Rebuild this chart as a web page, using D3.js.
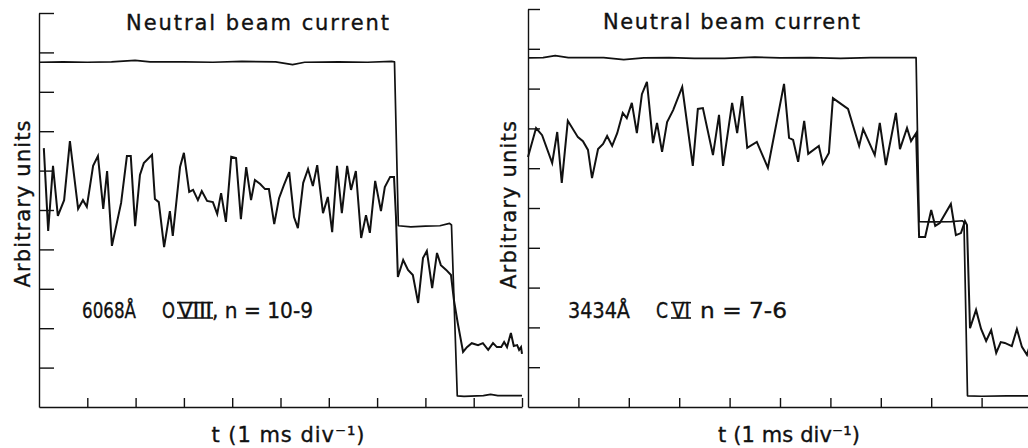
<!DOCTYPE html>
<html>
<head>
<meta charset="utf-8">
<script src="https://cdn.jsdelivr.net/npm/d3@7"></script>
<style>
  body { margin: 0; background: #fff; }
  svg { display: block; }
  text { font-family: "DejaVu Sans", sans-serif; fill: #111; stroke: #111; stroke-width: 0.35; }
</style>
</head>
<body>
<svg id="chart" width="1028" height="448"></svg>
<script>
// Time axis: 1 ms per division, 10 divisions; level axis: 10 divisions
const timeTicks = [1, 2, 3, 4, 5, 6, 7, 8, 9, 10];
const levelTicks = [1, 2, 3, 4, 5, 6, 7, 8, 9, 10];

const panelTitle = "Neutral beam current";
const levelTitle = "Arbitrary units";
const timeTitle = "t (1 ms div\u207B\u00B9)";

// Left panel: O VIII 6068 Å line, n = 10-9  ([t in ms, level in divisions])
const leftBeam = [
  [0, 8.75], [0.5, 8.76], [1.0, 8.75], [1.5, 8.76], [1.99, 8.80], [2.3, 8.76],
  [3.0, 8.76], [3.6, 8.75], [4.2, 8.77], [4.9, 8.76], [5.25, 8.69], [5.5, 8.75],
  [6.2, 8.76], [6.8, 8.75], [7.3, 8.77], [7.36, 8.76], [7.44, 4.60], [7.7, 4.57],
  [8.0, 4.59], [8.3, 4.60], [8.5, 4.66], [8.54, 4.62], [8.66, 0.28], [8.8, 0.27],
  [9.2, 0.29], [9.35, 0.32], [9.5, 0.29], [10, 0.29]
];
const leftSignal = [
  [0.10, 6.57], [0.19, 4.47], [0.29, 6.12], [0.39, 4.85], [0.52, 5.25], [0.64, 6.75],
  [0.81, 5.03], [0.91, 5.25], [0.99, 5.08], [1.12, 6.12], [1.22, 6.37], [1.33, 5.03],
  [1.41, 5.99], [1.51, 4.09], [1.70, 5.18], [1.82, 6.37], [1.90, 6.37], [1.99, 4.59],
  [2.09, 5.89], [2.17, 6.19], [2.34, 6.40], [2.40, 5.28], [2.48, 5.20], [2.59, 4.06],
  [2.71, 4.97], [2.77, 4.34], [2.92, 6.09], [3.00, 6.45], [3.11, 5.46], [3.19, 5.51],
  [3.29, 5.25], [3.37, 5.48], [3.48, 5.23], [3.60, 5.20], [3.69, 4.90], [3.77, 5.43],
  [3.87, 4.70], [3.98, 6.35], [4.08, 6.32], [4.18, 4.77], [4.29, 6.09], [4.39, 5.25],
  [4.47, 5.76], [4.58, 5.66], [4.68, 5.53], [4.76, 5.53], [4.87, 4.64], [4.97, 5.30],
  [5.07, 5.63], [5.18, 5.96], [5.28, 4.82], [5.36, 4.54], [5.47, 5.69], [5.57, 6.04],
  [5.67, 5.61], [5.76, 6.14], [5.88, 4.92], [5.98, 5.33], [6.07, 4.44], [6.17, 6.12],
  [6.27, 4.92], [6.38, 6.12], [6.46, 5.51], [6.56, 5.99], [6.67, 4.29], [6.77, 4.87],
  [6.85, 4.42], [6.96, 5.74], [7.08, 4.97], [7.16, 5.58], [7.27, 5.84], [7.35, 5.84],
  [7.39, 4.85], [7.43, 3.30], [7.54, 3.73], [7.64, 3.48], [7.74, 3.35], [7.85, 2.64],
  [7.95, 3.78], [8.03, 3.96], [8.14, 3.02], [8.24, 3.91], [8.32, 3.60], [8.43, 3.48],
  [8.53, 3.35], [8.59, 2.72], [8.67, 2.13], [8.78, 1.40], [8.86, 1.52], [8.96, 1.62],
  [9.09, 1.57], [9.19, 1.62], [9.30, 1.45], [9.40, 1.62], [9.48, 1.52], [9.57, 1.52],
  [9.63, 1.65], [9.69, 1.52], [9.77, 1.88], [9.83, 1.55], [9.90, 1.57], [9.94, 1.45],
  [9.98, 1.52], [10.0, 1.35]
];

// Right panel: C VI 3434 Å line, n = 7-6
const rightBeam = [
  [0, 8.77], [0.3, 8.78], [0.54, 8.83], [0.8, 8.78], [1.5, 8.78], [1.9, 8.73],
  [2.3, 8.77], [2.8, 8.78], [3.3, 8.76], [3.9, 8.76], [4.5, 8.79], [5.0, 8.77],
  [5.6, 8.78], [6.2, 8.76], [6.8, 8.78], [7.3, 8.78], [7.70, 8.78], [7.76, 4.66],
  [8.0, 4.65], [8.4, 4.66], [8.62, 4.68], [8.65, 4.64], [8.72, 0.28], [9.0, 0.27],
  [9.5, 0.28], [10, 0.28]
];
const rightSignal = [
  [0.00, 6.28], [0.16, 7.01], [0.28, 6.83], [0.48, 6.13], [0.58, 6.91], [0.67, 5.63],
  [0.79, 7.19], [0.99, 6.78], [1.09, 6.68], [1.19, 6.46], [1.27, 5.75], [1.39, 6.48],
  [1.49, 6.61], [1.57, 6.81], [1.67, 6.56], [1.77, 6.88], [1.88, 7.39], [1.96, 7.26],
  [2.06, 7.64], [2.16, 6.88], [2.26, 7.86], [2.36, 8.17], [2.48, 6.63], [2.56, 7.14],
  [2.66, 6.41], [2.76, 7.16], [2.88, 7.46], [3.06, 8.04], [3.27, 6.06], [3.37, 7.49],
  [3.47, 7.51], [3.67, 6.33], [3.79, 7.34], [3.87, 6.06], [4.05, 7.64], [4.15, 6.88],
  [4.25, 7.81], [4.35, 6.51], [4.54, 6.66], [4.76, 6.01], [5.08, 8.12], [5.18, 6.76],
  [5.26, 6.71], [5.36, 6.16], [5.48, 7.19], [5.56, 6.36], [5.77, 6.56], [5.85, 6.11],
  [5.97, 6.38], [6.05, 7.76], [6.35, 7.49], [6.57, 6.56], [6.65, 6.98], [6.88, 6.33],
  [6.98, 7.14], [7.10, 6.08], [7.30, 7.39], [7.38, 6.48], [7.52, 7.01], [7.60, 6.68],
  [7.70, 6.88], [7.76, 4.27], [7.88, 4.27], [8.00, 4.95], [8.08, 4.55], [8.17, 4.62],
  [8.39, 5.10], [8.49, 4.32], [8.59, 4.37], [8.67, 4.67], [8.71, 4.57], [8.77, 1.98],
  [8.89, 2.44], [8.99, 1.96], [9.09, 1.66], [9.19, 1.93], [9.29, 1.36], [9.38, 1.63],
  [9.46, 1.61], [9.60, 1.53], [9.70, 1.96], [9.80, 1.51], [9.90, 1.31], [9.96, 1.56]
];

const leftLabel = ["6068\u00C5", "O", "VIII", ", n = 10-9"];
const rightLabel = ["3434\u00C5", "C", "VI", "n = 7-6"];

const svg = d3.select("#chart");
const ink = "#111";

const panels = [
  {
    beam: leftBeam, signal: leftSignal, label: leftLabel,
    xRange: [39, 522], yRange: [407, 13], yTick: 15,
    title: { x: 126, y: 30, w: 263 },
    yTitle: { x: 30, y: 204, w: 167 },
    xTitle: { x: 288, y: 442, w: 153 },
    labelPos: [
      { x: 82, w: 54 }, { x: 162, w: 13 }, { x: 178, w: 34, bars: true }, { x: 212, w: 101 }
    ]
  },
  {
    beam: rightBeam, signal: rightSignal, label: rightLabel,
    xRange: [528, 1032], yRange: [407, 9], yTick: 12,
    title: { x: 603, y: 29, w: 257 },
    yTitle: { x: 516, y: 205, w: 168 },
    xTitle: { x: 789, y: 442, w: 142 },
    labelPos: [
      { x: 568, w: 62 }, { x: 656, w: 12 }, { x: 672, w: 18, bars: true }, { x: 700, w: 87 }
    ]
  }
];

panels.forEach(p => {
  const x = d3.scaleLinear().domain([0, 10]).range(p.xRange);
  const y = d3.scaleLinear().domain([0, 10]).range(p.yRange);
  const g = svg.append("g");

  // Axes with inward ticks
  g.append("g")
    .attr("transform", `translate(${p.xRange[0]},0)`)
    .call(d3.axisLeft(y).tickValues(levelTicks).tickSize(-p.yTick).tickSizeOuter(0).tickFormat(""));
  g.append("g")
    .attr("transform", `translate(0,${p.yRange[0]})`)
    .call(d3.axisBottom(x).tickValues(timeTicks).tickSize(-9).tickSizeOuter(0).tickFormat(""));
  g.selectAll(".domain, .tick line").attr("stroke", ink).attr("stroke-width", 1.4);

  const line = d3.line().x(d => x(d[0])).y(d => y(d[1]));

  g.append("path").datum(p.beam)
    .attr("d", line).attr("fill", "none")
    .attr("stroke", ink).attr("stroke-width", 1.7).attr("stroke-linejoin", "round");
  g.append("path").datum(p.signal)
    .attr("d", line).attr("fill", "none")
    .attr("stroke", ink).attr("stroke-width", 2).attr("stroke-linejoin", "miter");

  // Titles
  g.append("text").text(panelTitle)
    .attr("x", p.title.x).attr("y", p.title.y)
    .attr("font-size", 21).attr("textLength", p.title.w).attr("lengthAdjust", "spacing");
  g.append("text").text(levelTitle)
    .attr("transform", `translate(${p.yTitle.x},${p.yTitle.y}) rotate(-90)`)
    .attr("text-anchor", "middle")
    .attr("font-size", 21).attr("textLength", p.yTitle.w).attr("lengthAdjust", "spacing");
  g.append("text").text(timeTitle)
    .attr("x", p.xTitle.x - p.xTitle.w / 2).attr("y", p.xTitle.y)
    .attr("font-size", 21).attr("textLength", p.xTitle.w).attr("lengthAdjust", "spacing");

  // Spectral line annotation, with barred roman numeral
  const base = 318, fs = 21;
  p.label.forEach((s, i) => {
    const pos = p.labelPos[i];
    g.append("text").text(s)
      .attr("x", pos.x).attr("y", base)
      .attr("font-size", fs)
      .attr("textLength", pos.w).attr("lengthAdjust", "spacingAndGlyphs");
    if (pos.bars) {
      [base - fs * 0.73, base].forEach(yy => {
        g.append("line")
          .attr("x1", pos.x - 1).attr("x2", pos.x + pos.w + 1)
          .attr("y1", yy).attr("y2", yy)
          .attr("stroke", ink).attr("stroke-width", 1.6);
      });
    }
  });
});
</script>
</body>
</html>
